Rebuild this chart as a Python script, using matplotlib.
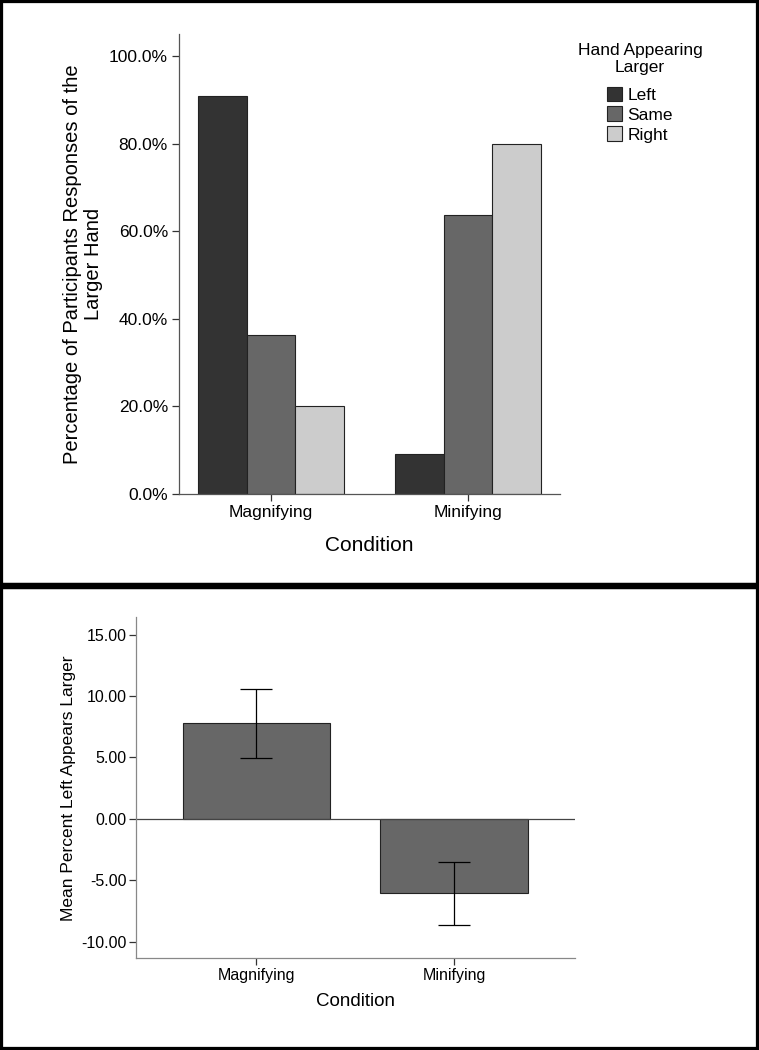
import numpy as np
import matplotlib.pyplot as plt
from matplotlib.patches import Rectangle
from matplotlib.ticker import FormatStrFormatter

plt.rcParams['font.family'] = ['Liberation Sans', 'DejaVu Sans']
plt.rcParams['axes.unicode_minus'] = False

# top chart: percentage of responses
conditions = ["Magnifying", "Minifying"]
hands = ["Left", "Same", "Right"]
pct_left = [90.9, 9.1]
pct_same = [36.4, 63.6]
pct_right = [20.0, 80.0]
hand_colors = ["#333333", "#676767", "#cccccc"]

# bottom chart: mean percent left appears larger
mean_left = [7.76, -6.07]
err_low = [2.80, 2.55]
err_high = [2.78, 2.52]

W, H = 759, 1050
fig = plt.figure(figsize=(W / 100, H / 100), dpi=100)

def fx(px):
    return px / W

def fy(py):
    return 1 - py / H

# panel frames
split = fy(586)
fig.patches.append(Rectangle((0, split), 1, 1 - split, transform=fig.transFigure,
                             fill=False, ec='black', lw=4.5))
fig.patches.append(Rectangle((0, 0), 1, split, transform=fig.transFigure,
                             fill=False, ec='black', lw=4.5))

# ---- top panel
ax1 = fig.add_axes([fx(179), fy(494), fx(560) - fx(179), fy(34) - fy(494)])
x = np.arange(len(conditions))
bw = 0.246
for i, (vals, c, lab) in enumerate(zip([pct_left, pct_same, pct_right], hand_colors, hands)):
    ax1.bar(x + (i - 1) * bw, vals, width=bw, color=c, edgecolor='#222222',
            linewidth=0.8, label=lab)
ax1.set_xlim(-0.467, 1.467)
ax1.set_ylim(0, 105)
ax1.set_yticks([0, 20, 40, 60, 80, 100])
ax1.yaxis.set_major_formatter(FormatStrFormatter('%.1f%%'))
ax1.set_xticks(x)
ax1.set_xticklabels(conditions)
for s in ['top', 'right']:
    ax1.spines[s].set_visible(False)
for s in ['left', 'bottom']:
    ax1.spines[s].set_color('#555555')
    ax1.spines[s].set_linewidth(0.9)
ax1.tick_params(axis='both', labelsize=12.5, length=5, width=0.9, color='#333333', pad=3)
ax1.set_ylabel("Percentage of Participants Responses of the\nLarger Hand", fontsize=14.5,
               linespacing=1.1)
ax1.yaxis.set_label_coords(-0.252, 0.5)
ax1.yaxis.label.set_va('center')
ax1.set_xlabel("Condition", fontsize=15)
ax1.xaxis.set_label_coords(0.5, -0.112)
ax1.xaxis.label.set_va('center')

# legend title drawn separately so the gap to the entries matches
fig.text(fx(640), fy(59), "Hand Appearing\nLarger", ha='center', va='center',
         fontsize=12.5, linespacing=1.1)
fig.legend(loc='upper center', bbox_to_anchor=(fx(640), fy(78)), frameon=False,
           fontsize=12.5, handlelength=0.88, handleheight=0.92, handletextpad=0.3,
           labelspacing=0.2, borderpad=0)

# ---- bottom panel
ax2 = fig.add_axes([fx(136), fy(958.3), fx(574.5) - fx(136), fy(617.3) - fy(958.3)])
ax2.bar(x, mean_left, width=0.749, color="#676767", edgecolor='#222222', linewidth=0.8)
ax2.errorbar(x, mean_left, yerr=[err_low, err_high], fmt='none', ecolor='black',
             elinewidth=0.9, capsize=11.5, capthick=0.9)
ax2.axhline(0, color='#444444', lw=0.9)
ax2.set_xlim(-0.610, 1.610)
ax2.set_ylim(-11.35, 16.4)
ax2.set_yticks([-10, -5, 0, 5, 10, 15])
ax2.yaxis.set_major_formatter(FormatStrFormatter('%.2f'))
ax2.set_xticks(x)
ax2.set_xticklabels(conditions)
for s in ['top', 'right']:
    ax2.spines[s].set_visible(False)
for s in ['left', 'bottom']:
    ax2.spines[s].set_color('#888888')
    ax2.spines[s].set_linewidth(0.9)
ax2.tick_params(axis='both', labelsize=11.5, length=5, width=0.9, color='#333333', pad=2)
ax2.set_ylabel("Mean Percent Left Appears Larger", fontsize=12.5)
ax2.yaxis.set_label_coords(-0.155, 0.5)
ax2.yaxis.label.set_va('center')
ax2.set_xlabel("Condition", fontsize=13.5)
ax2.xaxis.set_label_coords(0.5, -0.127)
ax2.xaxis.label.set_va('center')

fig.savefig("out.png", dpi=100)
